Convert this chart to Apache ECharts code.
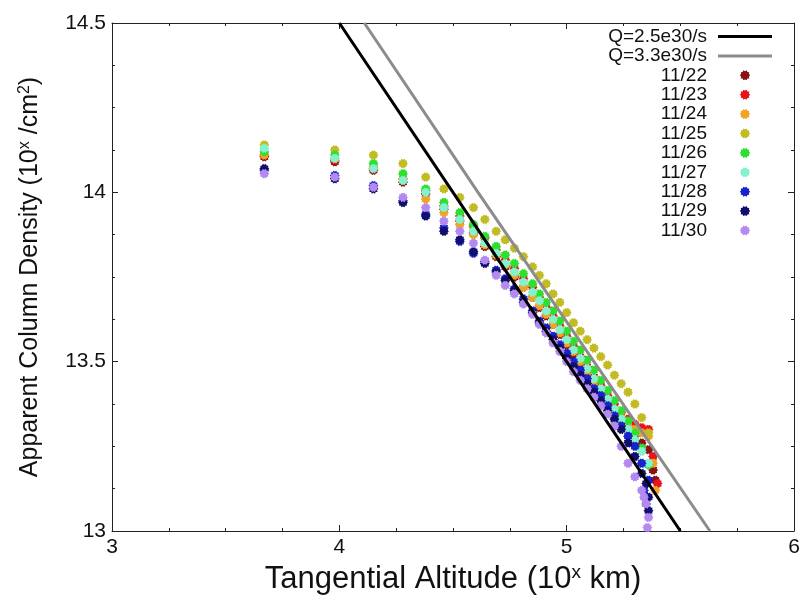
<!DOCTYPE html>
<html>
<head>
  <meta charset="UTF-8">
  <title>Apparent Column Density</title>
  <style>
    * { margin: 0; padding: 0; }
    body { background: #fff; }
    #chart { width: 803px; height: 600px; }
  </style>
  <script src="https://cdn.jsdelivr.net/npm/echarts@6/dist/echarts.min.js"></script>
</head>
<body>
  <div id="chart"></div>
  <script>
    // log10 of tangential altitude (km), shared by all dates
    const altitude = [3.67, 3.98, 4.15, 4.28, 4.38, 4.46, 4.53, 4.59, 4.64, 4.69, 4.73, 4.77, 4.81, 4.85, 4.88,
      4.91, 4.94, 4.97, 5.00, 5.03, 5.06, 5.09, 5.12, 5.15, 5.18, 5.21, 5.24, 5.27, 5.30, 5.33, 5.36];

    // log10 apparent column density per date
    const d1122 = [14.105, 14.09, 14.065, 14.03, 13.995, 13.95, 13.915, 13.88, 13.84, 13.81, 13.78, 13.75, 13.72, 13.69, 13.66,
      13.635, 13.61, 13.58, 13.55, 13.52, 13.49, 13.46, 13.43, 13.40, 13.375, 13.35, 13.325, 13.30, 13.28, 13.26, 13.24];
    const d1123 = [14.11, 14.095, 14.07, 14.04, 14.005, 13.96, 13.93, 13.90, 13.865, 13.83, 13.80, 13.775, 13.745, 13.72, 13.69,
      13.66, 13.635, 13.605, 13.575, 13.545, 13.515, 13.485, 13.455, 13.43, 13.40, 13.375, 13.35, 13.33, 13.315, 13.305, 13.30];
    const d1124 = [14.11, 14.10, 14.075, 14.04, 13.98, 13.94, 13.905, 13.875, 13.845, 13.815, 13.785, 13.755, 13.72, 13.69, 13.665,
      13.64, 13.61, 13.585, 13.555, 13.53, 13.50, 13.47, 13.44, 13.41, 13.385, 13.36, 13.335, 13.31, 13.30, 13.29, 13.28];
    const d1125 = [14.14, 14.125, 14.11, 14.085, 14.045, 14.01, 13.985, 13.955, 13.92, 13.885, 13.86, 13.835, 13.81, 13.78, 13.755,
      13.73, 13.70, 13.675, 13.645, 13.615, 13.59, 13.565, 13.54, 13.515, 13.49, 13.46, 13.435, 13.41, 13.375, 13.335, 13.29];
    const d1126 = [14.12, 14.11, 14.085, 14.055, 14.01, 13.97, 13.94, 13.905, 13.87, 13.84, 13.815, 13.79, 13.76, 13.73, 13.70,
      13.675, 13.65, 13.62, 13.59, 13.56, 13.535, 13.505, 13.475, 13.445, 13.415, 13.385, 13.355, 13.325, 13.29, 13.245, 13.195];
    const d1127 = [14.13, 14.10, 14.07, 14.035, 14.0, 13.955, 13.92, 13.885, 13.85, 13.82, 13.79, 13.765, 13.735, 13.705, 13.68,
      13.65, 13.625, 13.595, 13.565, 13.535, 13.51, 13.48, 13.45, 13.42, 13.39, 13.36, 13.33, 13.30, 13.27, 13.235, 13.20];
    const d1128 = [14.065, 14.05, 14.02, 13.975, 13.935, 13.895, 13.855, 13.82, 13.795, 13.77, 13.745, 13.715, 13.685, 13.65, 13.62,
      13.60, 13.575, 13.55, 13.525, 13.50, 13.475, 13.45, 13.42, 13.40, 13.37, 13.34, 13.31, 13.28, 13.25, 13.20, 13.15];
    const d1129 = [14.07, 14.04, 14.01, 13.97, 13.93, 13.885, 13.86, 13.825, 13.79, 13.765, 13.74, 13.71, 13.675, 13.645, 13.615,
      13.59, 13.565, 13.54, 13.51, 13.485, 13.46, 13.435, 13.41, 13.385, 13.355, 13.33, 13.30, 13.26, 13.22, 13.17, 13.10];
    const d1130 = [14.055, 14.045, 14.015, 13.985, 13.955, 13.915, 13.885, 13.85, 13.80, 13.755, 13.725, 13.70, 13.67, 13.64, 13.61,
      13.585, 13.555, 13.53, 13.50, 13.47, 13.445, 13.42, 13.395, 13.37, 13.345, 13.31, 13.25, 13.20, 13.16, 13.12, 13.04];

    // extra low points at the bottom end of some dates
    const tail1122 = [[5.38, 13.18], [5.39, 13.15]];
    const tail1123 = [[5.38, 13.22], [5.40, 13.14]];
    const tail1124 = [[5.38, 13.20], [5.39, 13.12]];
    const tail1128 = [[5.34, 13.12], [5.35, 13.08]];
    const tail1129 = [[5.36, 13.06], [5.35, 13.14]];
    const tail1130 = [[5.35, 13.08], [5.355, 13.01], [5.34, 13.10]];

    // model curves
    const modelQ25 = [[4.0, 14.5], [4.5, 14.0], [5.0, 13.5], [5.25, 13.25], [5.5, 13.0]];
    const modelQ33 = [[4.11, 14.5], [4.61, 14.0], [5.12, 13.5], [5.63, 13.0]];

    const dates = ['11/22', '11/23', '11/24', '11/25', '11/26', '11/27', '11/28', '11/29', '11/30'];
    const dateValues = [d1122, d1123, d1124, d1125, d1126, d1127, d1128, d1129, d1130];
    const dateTails = [tail1122, tail1123, tail1124, [], [], [], tail1128, tail1129, tail1130];
    const dateColors = ['#8b1212', '#e8141c', '#f0a424', '#c2bc22', '#2ee02e', '#84f2cc', '#1822d0', '#10106c', '#b48af0'];

    // little spiky blob marker
    function starPath(n, r1, r2) {
      let d = '';
      for (let i = 0; i < 2 * n; i++) {
        const a = Math.PI * i / n;
        const r = i % 2 ? r2 : r1;
        d += (i ? 'L' : 'M') + (r * Math.cos(a)).toFixed(3) + ' ' + (r * Math.sin(a)).toFixed(3);
      }
      return 'path://' + d + 'Z';
    }
    const marker = starPath(10, 1, 0.78);
    // plain line for the legend (the moveTo points keep the box 54x10)
    const lineIcon = 'path://M0 0M0 3.5L54 3.5L54 6.5L0 6.5ZM54 10';

    const font = 'Liberation Sans, Arial, sans-serif';

    const series = [];
    dates.forEach(function (name, k) {
      const pts = altitude.map(function (x, i) { return [x, dateValues[k][i]]; }).concat(dateTails[k]);
      series.push({
        name: name,
        type: 'scatter',
        data: pts,
        symbol: marker,
        symbolSize: 10,
        symbolKeepAspect: true,
        itemStyle: { color: dateColors[k], opacity: 1 },
        z: 2
      });
    });
    series.push({
      name: 'Q=2.5e30/s', type: 'line', data: modelQ25, showSymbol: false, symbol: 'none',
      lineStyle: { color: '#000', width: 3 }, itemStyle: { color: '#000' }, z: 4
    });
    series.push({
      name: 'Q=3.3e30/s', type: 'line', data: modelQ33, showSymbol: false, symbol: 'none',
      lineStyle: { color: '#8c8c8c', width: 3 }, itemStyle: { color: '#8c8c8c' }, z: 3
    });

    const axisColor = '#222';
    function xAx(pos, show) {
      return {
        type: 'value', position: pos, min: 3, max: 6, interval: 1,
        axisLine: { show: true, onZero: false, lineStyle: { color: axisColor, width: 1 } },
        axisTick: { inside: true, length: 6, lineStyle: { color: axisColor } },
        minorTick: { show: true, splitNumber: 4, length: 3, lineStyle: { color: axisColor } },
        splitLine: { show: false },
        axisLabel: { show: show, fontSize: 21, color: '#111', fontFamily: font, margin: 6 }
      };
    }
    function yAx(pos, show) {
      return {
        type: 'value', position: pos, min: 13, max: 14.5, interval: 0.5,
        axisLine: { show: true, onZero: false, lineStyle: { color: axisColor, width: 1 } },
        axisTick: { inside: true, length: 6, lineStyle: { color: axisColor } },
        minorTick: { show: true, splitNumber: 4, length: 3, lineStyle: { color: axisColor } },
        splitLine: { show: false },
        axisLabel: { show: show, fontSize: 21, color: '#111', fontFamily: font, margin: 6 }
      };
    }

    const xMain = xAx('bottom', true);
    xMain.name = '{n|Tangential Altitude (10}{s|x}{n| km)}';
    xMain.nameLocation = 'middle';
    xMain.nameGap = 32;
    xMain.nameTextStyle = {
      rich: {
        n: { fontSize: 31, fontFamily: font, color: '#111', lineHeight: 33 },
        s: { fontSize: 19, fontFamily: font, color: '#111', verticalAlign: 'top', lineHeight: 19 }
      }
    };
    const yMain = yAx('left', true);
    yMain.name = '{n|Apparent Column Density (10}{s|x}{n| /cm}{s|2}{n|)}';
    yMain.nameLocation = 'middle';
    yMain.nameGap = 68;
    yMain.nameTextStyle = {
      rich: {
        n: { fontSize: 25, fontFamily: font, color: '#111', lineHeight: 27 },
        s: { fontSize: 16, fontFamily: font, color: '#111', verticalAlign: 'top', lineHeight: 16 }
      }
    };

    const legendData = [
      { name: 'Q=2.5e30/s', icon: lineIcon },
      { name: 'Q=3.3e30/s', icon: lineIcon }
    ].concat(dates);

    const chart = echarts.init(document.getElementById('chart'));
    chart.setOption({
      animation: false,
      backgroundColor: '#fff',
      grid: { left: 112, right: 9, top: 23, bottom: 59 },
      legend: {
        orient: 'vertical',
        right: 31,
        top: 27,
        padding: 0,
        align: 'right',
        itemWidth: 54,
        itemHeight: 10,
        itemGap: 0.4,
        data: legendData,
        textStyle: { fontSize: 19, lineHeight: 19, fontFamily: font, color: '#111', padding: [0, 6, 0, 0] }
      },
      xAxis: [xMain, xAx('top', false)],
      yAxis: [yMain, yAx('right', false)],
      series: series
    });
  </script>
</body>
</html>
